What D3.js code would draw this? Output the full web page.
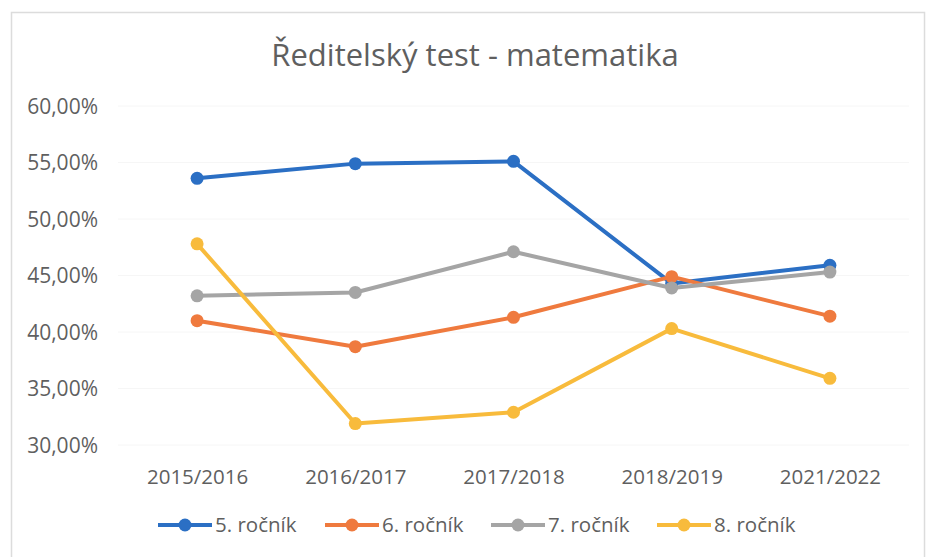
<!DOCTYPE html>
<html>
<head>
<meta charset="utf-8">
<script src="https://cdn.jsdelivr.net/npm/d3@7"></script>
<style>
  html, body { margin: 0; padding: 0; background: #fff; }
  svg { display: block; }
  text { font-family: "Open Sans", "Noto Sans", sans-serif; fill: #5f5f5f; }
</style>
</head>
<body>
<svg id="chart" width="927" height="557"></svg>
<script>
const title = "Ředitelský test - matematika";
const categories = ["2015/2016", "2016/2017", "2017/2018", "2018/2019", "2021/2022"];
const seriesNames = ["5. ročník", "6. ročník", "7. ročník", "8. ročník"];
const grade5 = [53.6, 54.9, 55.1, 44.3, 45.9];
const grade6 = [41.0, 38.7, 41.3, 44.9, 41.4];
const grade7 = [43.2, 43.5, 47.1, 43.9, 45.3];
const grade8 = [47.8, 31.9, 32.9, 40.3, 35.9];
const yTicks = [30, 35, 40, 45, 50, 55, 60];
const colors = ["#2b6fc4", "#ef7a3e", "#a5a5a5", "#f8bb3c"];

const series = [grade5, grade6, grade7, grade8].map((v, i) => ({ name: seriesNames[i], values: v, color: colors[i] }));

const svg = d3.select("#chart");

// frame
svg.append("rect").attr("x", 11.5).attr("y", 12.5).attr("width", 913).attr("height", 560)
  .attr("fill", "none").attr("stroke", "#dcdcdc").attr("stroke-width", 1.5);

const x = d3.scalePoint().domain(categories).range([118, 909]).padding(0.5);
const y = d3.scaleLinear().domain([30, 60]).range([445, 106]);

// title
svg.append("text").attr("x", 475).attr("y", 66).attr("text-anchor", "middle")
  .style("font-size", "31px").text(title);

// gridlines
svg.append("g").selectAll("line").data(yTicks).join("line")
  .attr("x1", 118).attr("x2", 909)
  .attr("y1", d => y(d)).attr("y2", d => y(d))
  .attr("stroke", "#f6f6f6").attr("stroke-width", 1);

// y axis
const yAxis = d3.axisLeft(y).tickValues(yTicks).tickSize(0).tickPadding(0)
  .tickFormat(d => d3.format(".2f")(d).replace(".", ",") + "%");
const gy = svg.append("g").attr("transform", "translate(98,0)").call(yAxis);
gy.select(".domain").remove();
gy.selectAll("text").attr("dy", "0.35em").style("font-size", "21px").style("font-family", null).attr("fill", null);

// x axis
const xAxis = d3.axisBottom(x).tickSize(0).tickPadding(0);
const gx = svg.append("g").attr("transform", "translate(0,477)").call(xAxis);
gx.select(".domain").remove();
gx.selectAll("text").attr("dy", "0.35em").style("font-size", "20.5px").style("font-family", null).attr("fill", null);

// lines
const line = d3.line().x((d, i) => x(categories[i])).y(d => y(d));
const gs = svg.append("g").selectAll("g").data(series).join("g");
gs.append("path").attr("d", d => line(d.values)).attr("fill", "none")
  .attr("stroke", d => d.color).attr("stroke-width", 4).attr("stroke-linejoin", "round");
gs.each(function(s) {
  d3.select(this).selectAll("circle").data(s.values).join("circle")
    .attr("cx", (d, i) => x(categories[i])).attr("cy", d => y(d)).attr("r", 6.5)
    .attr("fill", s.color);
});

// legend
const legendX = [158, 325, 491, 657];
const lg = svg.append("g").selectAll("g").data(series).join("g")
  .attr("transform", (d, i) => `translate(${legendX[i]},525)`);
lg.append("line").attr("x1", 0).attr("x2", 54).attr("y1", 0).attr("y2", 0)
  .attr("stroke", d => d.color).attr("stroke-width", 4);
lg.append("circle").attr("cx", 27).attr("cy", 0).attr("r", 6.5).attr("fill", d => d.color);
lg.append("text").attr("x", 57).attr("y", 0).attr("dy", "0.35em")
  .style("font-size", "20.5px").text(d => d.name);
</script>
</body>
</html>
